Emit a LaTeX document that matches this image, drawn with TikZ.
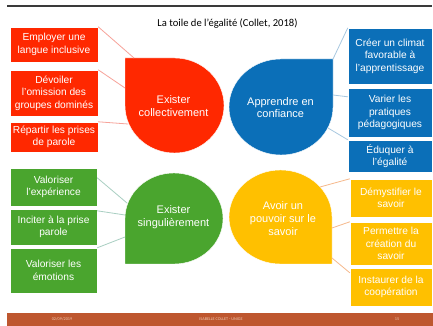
\documentclass[tikz,border=0pt]{standalone}
\usepackage{fontspec}
\setmainfont{Liberation Sans}
\newfontfamily\titlefont{Carlito}
\definecolor{cred}{HTML}{FF2800}
\definecolor{cblue}{HTML}{0B6FB8}
\definecolor{cgreen}{HTML}{4AA52E}
\definecolor{cyellow}{HTML}{FFC000}
\definecolor{lred}{HTML}{F7A39A}
\definecolor{lblue}{HTML}{A8C8E0}
\definecolor{lgreen}{HTML}{A9CFC2}
\definecolor{lyellow}{HTML}{F6B98C}
\definecolor{footbar}{HTML}{BE572F}
\definecolor{foottext}{HTML}{F0C8B0}
\definecolor{topline}{HTML}{3A3A3A}
\begin{document}
\begin{tikzpicture}[x=1pt,y=1pt,
  box/.style={rectangle, fill=#1, draw=white, line width=0.4pt, text=white, align=center, inner sep=0pt, font=\fontsize{10.2}{12.5}\selectfont},
  droptext/.style={text=white, align=center, inner sep=0pt, font=\fontsize{11}{12.8}\selectfont},
  drop/.style={fill=#1, draw=white, line width=0.4pt},
  link/.style={draw=#1, line width=0.8pt},
  foot/.style={text=foottext, font=\titlefont\fontsize{4.2}{5}\selectfont, inner sep=0pt}
]
\useasboundingbox (0,0) rectangle (433,326);
\fill[white] (0,0) rectangle (433,326);

% top rule and title
\draw[topline, line width=1.5pt] (7,320) -- (432,320);
\node[font=\titlefont\fontsize{10.6}{12}\selectfont, inner sep=0pt] (title) at (227.5,302) {La toile de l’égalité (Collet, 2018)};

% footer
\fill[footbar] (7,0) rectangle (433,13);
\node[foot] (fdate) at (62,6.5) {02/09/2019};
\node[foot] (fauthor) at (221,6.5) {ISABELLE COLLET - UNIGE};
\node[foot] (fpage) at (397,6.5) {15};

% drop shapes
\path[drop=cred] (125,268) -- (174.5,268) arc[start angle=90, end angle=-180, x radius=49.5, y radius=47.5] -- cycle;
\path[drop=cblue] (333,267) -- (333,219) arc[start angle=0, end angle=-270, x radius=52, y radius=48] -- cycle;
\path[drop=cgreen] (125,62) -- (125,107.5) arc[start angle=180, end angle=-90, x radius=49, y radius=45.5] -- cycle;
\path[drop=cyellow] (332,62) -- (280.5,62) arc[start angle=-90, end angle=-360, x radius=51.5, y radius=47] -- cycle;

\node[droptext] (red) at (173.5,220) {Exister\\collectivement};
\node[droptext] (blue) at (280.5,218.5) {Apprendre en\\confiance};
\node[droptext] (green) at (173.5,109) {Exister\\singulièrement};
\node[droptext] (yellow) at (283,107.5) {Avoir un\\pouvoir sur le\\savoir};

% red boxes
\node[box=cred, minimum width=88pt, minimum height=35pt] (r1) at (54,281.5) {Employer une\\langue inclusive};
\node[box=cred, minimum width=88pt, minimum height=46pt] (r2) at (54,233) {Dévoiler\\l’omission des\\groupes dominés};
\node[box=cred, minimum width=88pt, minimum height=30pt] (r3) at (54,189) {Répartir les prises\\de parole};

% blue boxes
\node[box=cblue, minimum width=84pt, minimum height=56pt] (b1) at (390,270) {Créer un climat\\favorable à\\l’apprentissage};
\node[box=cblue, minimum width=84pt, minimum height=49pt] (b2) at (390,213.5) {Varier les\\pratiques\\pédagogiques};
\node[box=cblue, minimum width=84pt, minimum height=32pt] (b3) at (390,170) {Éduquer à\\l’égalité};

% green boxes
\node[box=cgreen, minimum width=87pt, minimum height=38pt] (g1) at (53.5,139) {Valoriser\\l’expérience};
\node[box=cgreen, minimum width=87pt, minimum height=36pt] (g2) at (53.5,99) {Inciter à la prise\\parole};
\node[box=cgreen, minimum width=87pt, minimum height=45pt] (g3) at (53.5,55.5) {Valoriser les\\émotions};

% yellow boxes
\node[box=cyellow, minimum width=82pt, minimum height=38pt] (y1) at (391,128) {Démystifier le\\savoir};
\node[box=cyellow, minimum width=82pt, minimum height=43pt] (y2) at (391,82.5) {Permettre la\\création du\\savoir};
\node[box=cyellow, minimum width=82pt, minimum height=38pt] (y3) at (391,39) {Instaurer de la\\coopération};

% connector end points on the drops
\coordinate (rc1) at (134,268);
\coordinate (rc2) at (125,238);
\coordinate (rc3) at (128,202);
\coordinate (bc1) at (333,267);
\coordinate (bc2) at (333,231);
\coordinate (bc3) at (328,198);
\coordinate (gc1) at (127,123);
\coordinate (gc2) at (125,111);
\coordinate (gc3) at (125,89);
\coordinate (yc1) at (320,139);
\coordinate (yc2) at (332,98);
\coordinate (yc3) at (332,68);

% connectors
\draw[link=lred] (r1.north east) -- (rc1);
\draw[link=lred] (r2.north east) -- (rc2);
\draw[link=lred] (r3.north east) -- (rc3);
\draw[link=lblue] (b1.north west) -- (bc1);
\draw[link=lblue] ([yshift=-9pt]b2.north west) -- (bc2);
\draw[link=lblue] (b3.north west) -- (bc3);
\draw[link=lgreen] ([yshift=-10pt]g1.north east) -- (gc1);
\draw[link=lgreen] ([yshift=-2pt]g2.north east) -- (gc2);
\draw[link=lgreen] (g3.north east) -- (gc3);
\draw[link=lyellow] (y1.north west) -- (yc1);
\draw[link=lyellow] (y2.north west) -- (yc2);
\draw[link=lyellow] ([yshift=-5pt]y3.north west) -- (yc3);
\end{tikzpicture}
\end{document}
